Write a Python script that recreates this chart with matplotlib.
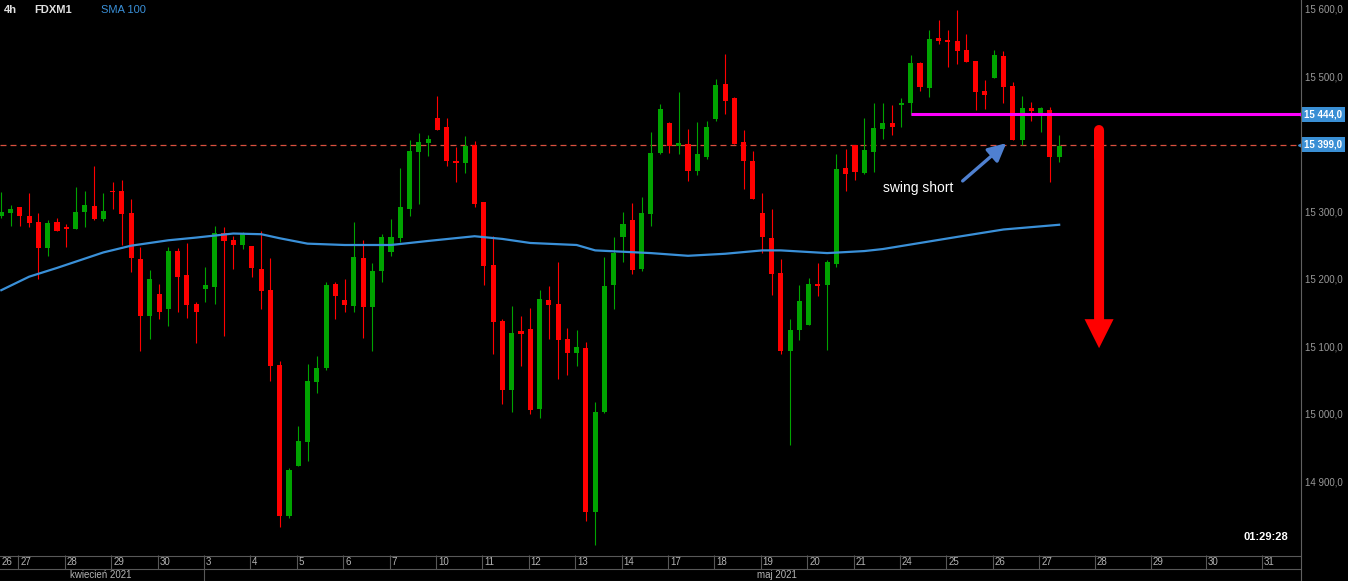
import matplotlib
matplotlib.use('Agg')
import matplotlib.pyplot as plt
from matplotlib.lines import Line2D
from matplotlib.transforms import blended_transform_factory
import numpy as np

# 4h candles, FDXM1, 26 Apr - 27 May 2021 (5 bars per day)
opens = [15293, 15298, 15306, 15293, 15284, 15245, 15284, 15277, 15274, 15299,
         15308, 15289, 15330, 15330, 15297, 15229, 15145, 15178, 15155, 15241,
         15205, 15162, 15185, 15188, 15268, 15257, 15250, 15248, 15214, 15183,
         15072, 14848, 14923, 14958, 15047, 15067, 15192, 15168, 15160, 15231,
         15158, 15211, 15240, 15260, 15303, 15388, 15401, 15438, 15425, 15375,
         15372, 15398, 15314, 15220, 15137, 15035, 15122, 15125, 15007, 15168,
         15162, 15111, 15090, 15097, 14854, 15002, 15191, 15262, 15287, 15214,
         15296, 15386, 15431, 15397, 15400, 15360, 15380, 15437, 15489, 15468,
         15403, 15374, 15297, 15260, 15208, 15093, 15124, 15131, 15191, 15191,
         15222, 15364, 15398, 15357, 15388, 15422, 15431, 15458, 15461, 15520,
         15483, 15557, 15552, 15552, 15539, 15523, 15478, 15498, 15530, 15486,
         15406, 15453, 15446, 15450, 15380]
highs = [15328, 15309, 15307, 15327, 15297, 15287, 15290, 15281, 15336, 15330,
         15367, 15327, 15343, 15346, 15318, 15247, 15213, 15192, 15247, 15245,
         15253, 15166, 15218, 15278, 15277, 15264, 15270, 15249, 15271, 15231,
         15078, 14919, 14982, 15073, 15085, 15195, 15195, 15200, 15284, 15257,
         15223, 15266, 15288, 15364, 15406, 15416, 15413, 15471, 15438, 15395,
         15412, 15404, 15314, 15263, 15140, 15160, 15145, 15156, 15183, 15189,
         15225, 15127, 15124, 15106, 15017, 15232, 15262, 15299, 15312, 15321,
         15418, 15459, 15432, 15477, 15422, 15432, 15434, 15496, 15533, 15470,
         15420, 15389, 15327, 15303, 15229, 15140, 15191, 15201, 15223, 15228,
         15385, 15392, 15399, 15438, 15461, 15461, 15458, 15468, 15532, 15521,
         15569, 15584, 15569, 15598, 15563, 15523, 15495, 15539, 15538, 15492,
         15471, 15462, 15455, 15455, 15413]
lows = [15290, 15278, 15278, 15276, 15199, 15233, 15271, 15247, 15273, 15276,
        15287, 15285, 15304, 15250, 15210, 15093, 15110, 15141, 15130, 15151,
        15142, 15104, 15166, 15163, 15115, 15215, 15244, 15203, 15155, 15049,
        14832, 14845, 14922, 14930, 15031, 15065, 15140, 15151, 15151, 15112,
        15093, 15195, 15233, 15254, 15293, 15311, 15382, 15420, 15367, 15343,
        15357, 15306, 15191, 15088, 15014, 15002, 15070, 14999, 14993, 15110,
        15051, 15057, 15070, 14841, 14805, 15001, 15155, 15225, 15207, 15211,
        15278, 15385, 15386, 15385, 15345, 15354, 15377, 15434, 15444, 15400,
        15333, 15318, 15238, 15176, 15088, 14953, 15109, 15131, 15174, 15094,
        15217, 15330, 15346, 15356, 15358, 15407, 15413, 15425, 15443, 15478,
        15469, 15548, 15514, 15518, 15521, 15450, 15452, 15497, 15461, 15405,
        15398, 15434, 15418, 15343, 15373]
closes = [15299, 15303, 15293, 15283, 15245, 15283, 15271, 15273, 15299, 15309,
          15289, 15300, 15328, 15296, 15230, 15145, 15200, 15151, 15241, 15203,
          15161, 15150, 15191, 15268, 15256, 15250, 15268, 15216, 15182, 15071,
          14848, 14916, 14959, 15048, 15068, 15191, 15175, 15161, 15232, 15158,
          15211, 15262, 15262, 15306, 15389, 15403, 15407, 15420, 15374, 15372,
          15397, 15311, 15219, 15136, 15035, 15120, 15118, 15005, 15170, 15161,
          15109, 15090, 15099, 14854, 15002, 15189, 15238, 15281, 15213, 15297,
          15386, 15452, 15397, 15401, 15360, 15385, 15425, 15487, 15463, 15400,
          15374, 15318, 15262, 15207, 15093, 15124, 15167, 15192, 15189, 15225,
          15363, 15355, 15358, 15391, 15424, 15431, 15425, 15461, 15520, 15484,
          15555, 15552, 15551, 15538, 15521, 15477, 15472, 15532, 15484, 15406,
          15453, 15449, 15453, 15380, 15397]

# SMA 100 read at some bar positions
sma_bar = [0, 3, 6, 11, 14, 18, 21, 25, 28, 30, 33, 37, 42, 46, 51, 54, 57, 62,
           64, 70, 74, 78, 82, 84, 89, 93, 95, 103, 108, 114]
sma_val = [15183, 15203, 15216, 15239, 15249, 15257, 15261, 15267, 15266, 15260,
           15252, 15250, 15250, 15256, 15263, 15259, 15253, 15250, 15242, 15238,
           15234, 15237, 15242, 15242, 15238, 15241, 15244, 15262, 15273, 15280]

# x axis: day labels and the bar where each day starts
day_labels = ['26', '27', '28', '29', '30', '3', '4', '5', '6', '7', '10', '11', '12',
              '13', '14', '17', '18', '19', '20', '21', '24', '25', '26', '27',
              '28', '29', '30', '31']
day_starts = [-3, 2, 7, 12, 17, 22, 27, 32, 37, 42, 47, 52, 57, 62, 67, 72, 77, 82,
              87, 92, 97, 102, 107, 112, 118, 124, 130, 136]
month_labels = ['kwiecień 2021', 'maj 2021']
month_centers = [10.7, 83.6]
month_start_may = 22

price_ticks = [14900, 15000, 15100, 15200, 15300, 15500, 15600]
resistance = 15444
last_price = 15399

plt.rcParams['font.family'] = ['Liberation Sans', 'DejaVu Sans']
plt.rcParams['lines.scale_dashes'] = False

W, H = 1348, 581
fig = plt.figure(figsize=(W / 100, H / 100), dpi=100, facecolor='black')
ax = fig.add_axes([0, 26 / H, 1301 / W, 555 / H])
ax.set_facecolor('black')
xmin, xmax = -0.14, 140.06
ax.set_xlim(xmin, xmax)
ax.set_ylim(14790.3, 15613.3)
for s in ax.spines.values():
    s.set_visible(False)

o = np.array(opens, float)
c = np.array(closes, float)
x = np.arange(len(o))
green, red = '#00a300', '#ff0000'
cols = [green if cc >= oo else red for oo, cc in zip(o, c)]

ax.axhline(last_price, color='#d9503f', lw=0.9, ls=(0, (4.3, 2.9)), zorder=1)
ax.vlines(x, lows, highs, colors=cols, lw=0.8, zorder=2)
ax.bar(x, np.maximum(np.abs(c - o), 2.5), bottom=np.minimum(o, c), width=0.55,
       color=cols, linewidth=0, zorder=3)
ax.plot(sma_bar, sma_val, color='#3a90d8', lw=1.6, zorder=4,
        solid_joinstyle='round')
ax.hlines(resistance, 98.0, xmax, color='#ff00ff', lw=2.2, zorder=5)

# right price axis
ax.yaxis.tick_right()
ax.set_yticks(price_ticks)
ax.set_yticklabels([f"{v:,}".replace(',', ' ') + ",0" for v in price_ticks])
ax.tick_params(axis='y', length=0, pad=3, labelsize=7, labelcolor='#9a9a9a')
ax.set_xticks([])

tr = blended_transform_factory(ax.transAxes, ax.transData)
for val in [resistance, last_price]:
    ax.text(1.0025, val, f"{val:,}".replace(',', ' ') + ",0", transform=tr,
            ha='left', va='center', color='white', fontsize=7, fontweight='bold',
            clip_on=False,
            bbox=dict(boxstyle='square,pad=0.25', fc='#3a8fd5', ec='none'))
    ax.plot([1.0], [val], marker='<', ms=4, color='#3a8fd5', transform=tr,
            clip_on=False)

# header
ax.text(4 / 1301, 1 - 10 / 555, '4h', transform=ax.transAxes, color='#e0e0e0',
        fontsize=8, fontweight='bold', va='center')
ax.text(34 / 1301, 1 - 10 / 555, 'FDXM1', transform=ax.transAxes, color='#e0e0e0',
        fontsize=8, fontweight='bold', va='center')
ax.text(101 / 1301, 1 - 10 / 555, 'SMA 100', transform=ax.transAxes,
        color='#3a90d8', fontsize=8, va='center')
ax.text(1288 / 1301, 18 / 555, '01:29:28', transform=ax.transAxes, color='white',
        fontsize=8, fontweight='bold', ha='right', va='center')

# annotations
ax.text(95.0, 15334, 'swing short', color='white', fontsize=10, va='center')
ax.annotate('', xy=(108.3, 15401), xytext=(103.6, 15345),
            arrowprops=dict(arrowstyle='-|>,head_length=0.6,head_width=0.3',
                            mutation_scale=18, color='#4f80d0', lw=2.4,
                            shrinkA=0, shrinkB=0))
ax.annotate('', xy=(118.3, 15097), xytext=(118.3, 15420),
            arrowprops=dict(arrowstyle='simple,head_length=2.9,head_width=2.9,tail_width=1.0',
                            mutation_scale=7.2, color='#ff0000', lw=0,
                            shrinkA=0, shrinkB=0))
ax.plot([118.3, 118.3], [15420, 15380], color='#ff0000', lw=7.2,
        solid_capstyle='round')

# date strip
axd = fig.add_axes([0, 0, 1301 / W, 26 / H])
axd.set_facecolor('black')
axd.set_xlim(xmin, xmax)
axd.set_ylim(0, 26)
axd.axis('off')
gray = '#585858'
for yy in [25.5, 12, 0.5]:
    axd.axhline(yy, color=gray, lw=0.8)
for lab, st in zip(day_labels, day_starts):
    sep = st - 0.15
    if sep > xmin:
        axd.vlines(sep, 12, 26, color=gray, lw=0.8)
    axd.text(max(sep, xmin) + 0.2, 19, lab, color='#b4b4b4', fontsize=7,
             ha='left', va='center')
axd.vlines(month_start_may - 0.15, 0, 12, color=gray, lw=0.8)
for lab, cx in zip(month_labels, month_centers):
    axd.text(cx, 6.5, lab, color='#b4b4b4', fontsize=7, ha='center', va='center')

fig.add_artist(Line2D([1301 / W, 1301 / W], [0, 1], color='#606060', lw=0.8))

fig.savefig('out.png', dpi=100, facecolor='black')
